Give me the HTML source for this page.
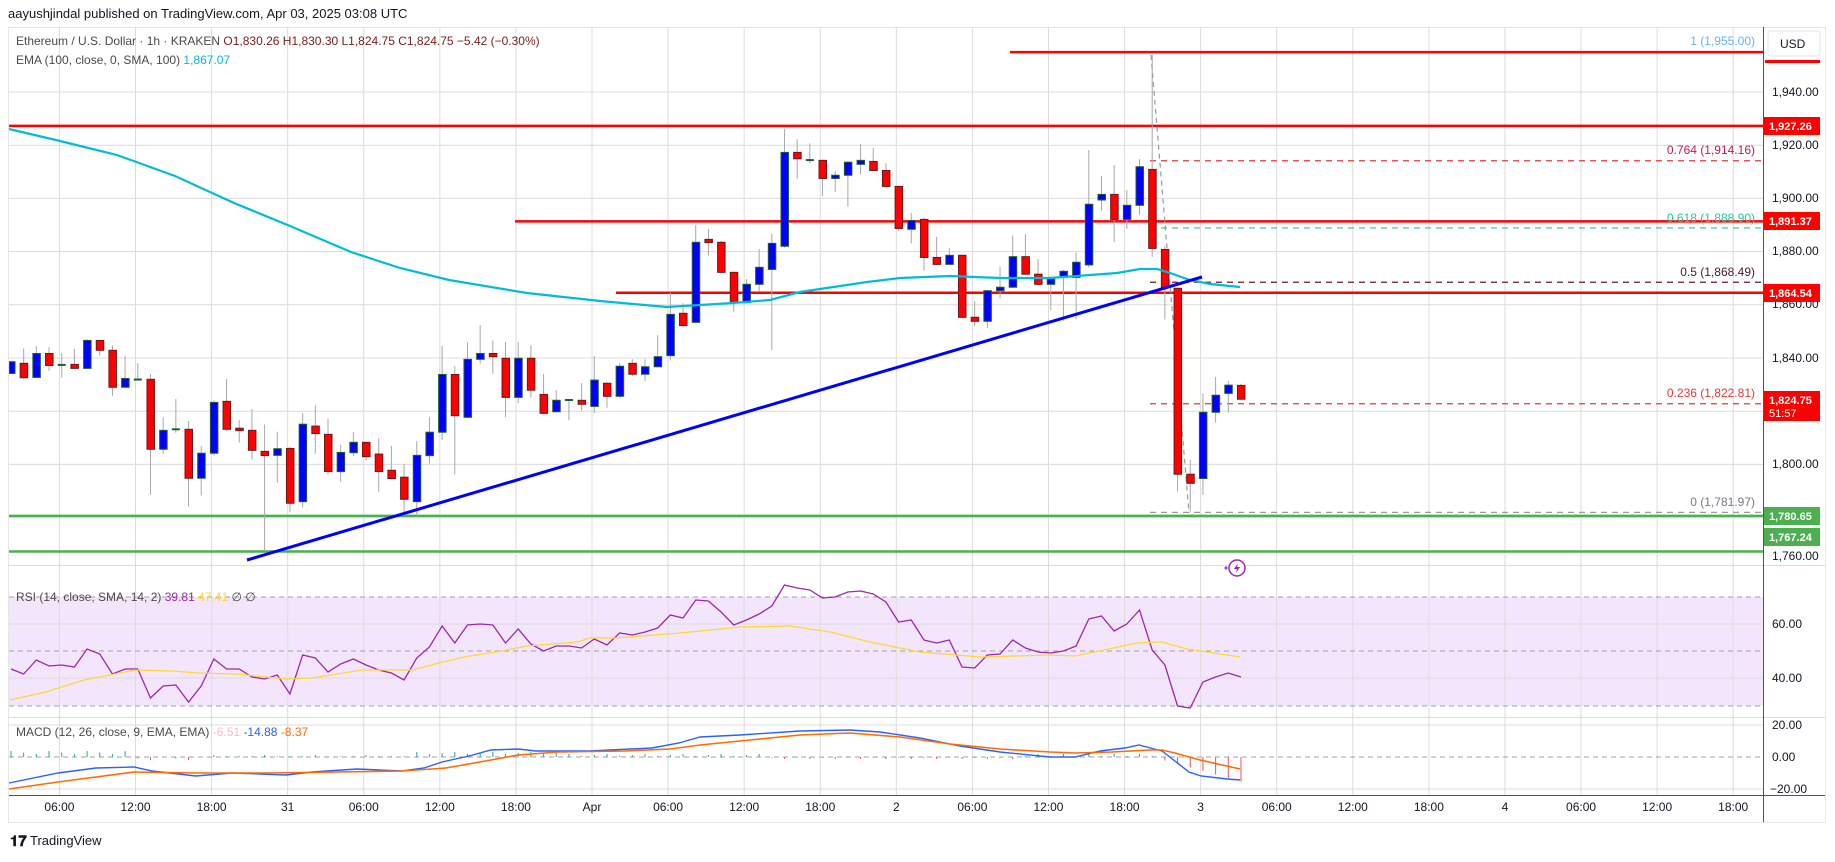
<!DOCTYPE html>
<html><head><meta charset="utf-8"><style>
body{margin:0;background:#fff;width:1835px;height:857px;overflow:hidden;font-family:"Liberation Sans",sans-serif}
svg text{font-family:"Liberation Sans",sans-serif}
</style></head><body>
<svg id="s" width="1835" height="857" xmlns="http://www.w3.org/2000/svg">
<rect x="0" y="0" width="1835" height="857" fill="#fff"/>
<text x="8" y="18" font-size="13" fill="#131722">aayushjindal published on TradingView.com, Apr 03, 2025 03:08 UTC</text>
<rect x="8.5" y="27.5" width="1817" height="795" fill="#fff" stroke="#e6e6e6"/>
<rect x="9" y="597" width="1754" height="109" fill="#f3e6fc"/>
<g id="grid" stroke="#dcdcdc" stroke-width="1"></g>
<g id="plot"></g>
<!-- pane separators and axes -->
<line x1="9" y1="565.5" x2="1825" y2="565.5" stroke="#dcdcdc"/>
<line x1="9" y1="717.5" x2="1825" y2="717.5" stroke="#dcdcdc"/>
<line x1="9" y1="795.5" x2="1825" y2="795.5" stroke="#50535e"/>
<line x1="1763.5" y1="27" x2="1763.5" y2="822" stroke="#50535e"/>
<!-- legends -->
<text x="16" y="45" font-size="12" fill="#4a4a4a">Ethereum / U.S. Dollar · 1h · KRAKEN <tspan fill="#7a1c1c">O1,830.26 H1,830.30 L1,824.75 C1,824.75 −5.42 (−0.30%)</tspan></text>
<text x="16" y="64" font-size="12" fill="#4a4a4a">EMA (100, close, 0, SMA, 100) <tspan fill="#00bcd4">1,867.07</tspan></text>
<text x="16" y="601" font-size="12" fill="#4a4a4a">RSI (14, close, SMA, 14, 2) <tspan fill="#9c27b0">39.81</tspan> <tspan fill="#fdd835">47.41</tspan> ∅ ∅</text>
<text x="16" y="736" font-size="12" fill="#4a4a4a">MACD (12, 26, close, 9, EMA, EMA) <tspan fill="#f8bbd0">-6.51</tspan> <tspan fill="#2962ff">-14.88</tspan> <tspan fill="#ff6d00">-8.37</tspan></text>
<!-- fib labels -->
<g font-size="12" text-anchor="end">
<text x="1755" y="45" fill="#64b5f6">1 (1,955.00)</text>
<text x="1755" y="154" fill="#c2185b">0.764 (1,914.16)</text>
<text x="1755" y="222" fill="#26c6a0">0.618 (1,888.90)</text>
<text x="1755" y="276" fill="#4a1a3a">0.5 (1,868.49)</text>
<text x="1755" y="397" fill="#e53935">0.236 (1,822.81)</text>
<text x="1755" y="506" fill="#787b86">0 (1,781.97)</text>
</g>
<!-- price axis -->
<g font-size="12" fill="#131722">
<rect x="1768" y="31" width="52" height="25" rx="3" fill="#fff" stroke="#e0e3eb"/>
<text x="1780" y="48" font-size="12">USD</text>
<rect x="1765" y="60" width="55" height="3" fill="#ff0000"/>
<text x="1772" y="96">1,940.00</text>
<text x="1772" y="149">1,920.00</text>
<text x="1772" y="202">1,900.00</text>
<text x="1772" y="255">1,880.00</text>
<text x="1772" y="308">1,860.00</text>
<text x="1772" y="362">1,840.00</text>
<text x="1772" y="468">1,800.00</text>
<text x="1772" y="560">1,760.00</text>
<text x="1772" y="628">60.00</text>
<text x="1772" y="682">40.00</text>
<text x="1772" y="729">20.00</text>
<text x="1772" y="761">0.00</text>
<text x="1770" y="793">−20.00</text>
</g>
<g font-size="11" font-weight="bold" fill="#fff">
<rect x="1764" y="117" width="56" height="18" fill="#ff0000"/><text x="1769" y="130">1,927.26</text>
<rect x="1764" y="212" width="56" height="18" fill="#ff0000"/><text x="1769" y="225">1,891.37</text>
<rect x="1764" y="284" width="56" height="18" fill="#ff0000"/><text x="1769" y="297">1,864.54</text>
<rect x="1764" y="391" width="56" height="30" fill="#ff0000"/><text x="1769" y="404">1,824.75</text><text x="1769" y="417" font-weight="normal">51:57</text>
<rect x="1764" y="507" width="56" height="18" fill="#4caf50"/><text x="1769" y="520">1,780.65</text>
<rect x="1764" y="528" width="56" height="18" fill="#4caf50"/><text x="1769" y="541">1,767.24</text>
</g>
<!-- time axis -->
<g id="tl" font-size="12" fill="#131722" text-anchor="middle"></g>
<!-- lightning icon -->
<g transform="translate(1237,568)">
<circle cx="0" cy="0" r="8" fill="#fff" stroke="#9c27b0" stroke-width="1.5"/>
<path d="M1,-5 L-3,1 L0,1 L-1,5 L3,-1 L0,-1 Z" fill="#9c27b0"/>
<path d="M-11,-2 l2,2 l-2,2 l-2,-2 z" fill="#7c4dff"/>
</g>
<!-- footer -->
<text x="10" y="846" font-size="15" font-weight="bold" fill="#131722">𝟏𝟕</text>
<text x="30" y="845" font-size="13" fill="#131722">TradingView</text>
</svg>
<script>
const NS="http://www.w3.org/2000/svg";
function el(p,t,a){const e=document.createElementNS(NS,t);for(const k in a)e.setAttribute(k,a[k]);p.appendChild(e);return e;}
const grid=document.getElementById('grid'),plot=document.getElementById('plot'),tl=document.getElementById('tl');
const X0=9,X1=1763;
const Y=p=>92+(1940-p)*2.66;
const tx=h=>592+h*12.68;
// vertical grid + labels
const labs=[["06:00",-42],["12:00",-36],["18:00",-30],["31",-24],["06:00",-18],["12:00",-12],["18:00",-6],["Apr",0],["06:00",6],["12:00",12],["18:00",18],["2",24],["06:00",30],["12:00",36],["18:00",42],["3",48],["06:00",54],["12:00",60],["18:00",66],["4",72],["06:00",78],["12:00",84],["18:00",90]];
labs.forEach(([t,h])=>{const x=tx(h);el(grid,'line',{x1:x,y1:27,x2:x,y2:795});const e=el(tl,'text',{x:x,y:811});e.textContent=t;});
[1940,1920,1900,1880,1860,1840,1820,1800,1780].forEach(p=>el(grid,'line',{x1:X0,y1:Y(p),x2:X1,y2:Y(p)}));
[624,678,725,789].forEach(y=>el(grid,'line',{x1:X0,y1:y,x2:X1,y2:y}));
[597,651,706,757].forEach(y=>el(plot,'line',{x1:X0,y1:y,x2:X1,y2:y,stroke:'#a0a0a8','stroke-dasharray':'5,4'}));
// horizontal level lines
const hl=(p,x1,c,w)=>el(plot,'line',{x1:x1,y1:Y(p),x2:X1,y2:Y(p),stroke:c,'stroke-width':w});
hl(1955,1010,'#ff0000',2.5);hl(1927.26,X0,'#ff0000',2.5);hl(1891.37,515,'#ff0000',2.5);hl(1864.54,616,'#ff0000',2.5);
hl(1780.65,X0,'#4caf50',2.5);hl(1767.24,X0,'#4caf50',2.5);
const dl=(p,c)=>el(plot,'line',{x1:1150,y1:Y(p),x2:X1,y2:Y(p),stroke:c,'stroke-width':1.2,'stroke-dasharray':'6,5'});
dl(1914.16,'#e53935');dl(1888.90,'#26c6a0');dl(1868.49,'#5d1a3a');dl(1822.81,'#e53935');dl(1781.97,'#9a9a9a');
el(plot,'line',{x1:1151,y1:55,x2:1189,y2:513,stroke:'#9a9a9a','stroke-width':1.2,'stroke-dasharray':'5,4'});
// candles o,c,h,l
const C=[[1834.2,1838.6,1839,1834],[1838,1832.6,1843.6,1832.1],[1832.7,1841.7,1844.5,1832.5],[1841.7,1837.2,1844.1,1835.2],[1837.4,1837.4,1842,1832.7],[1837.6,1836.1,1843.4,1835.8],[1836.1,1846.6,1847.1,1835.9],[1846.6,1842.9,1846.8,1840.9],[1842.9,1829,1844.6,1825.8],[1829,1832.3,1840.7,1828.8],[1831.9,1831.9,1838.1,1831.5],[1832,1805.7,1834,1788.6],[1805.7,1812.8,1817.8,1804],[1813.2,1813.2,1824.6,1811.9],[1813.2,1794.8,1816.3,1784.1],[1794.8,1804.2,1806.9,1788.3],[1804.2,1823.3,1824,1803.5],[1823.7,1813.2,1832.1,1812.5],[1813.6,1812.7,1816.7,1808.2],[1812.8,1805.3,1820.8,1801.8],[1804.9,1803.3,1815,1767.8],[1803.4,1805.9,1812.3,1793.1],[1806,1785.4,1806.5,1782],[1786,1815.1,1819.3,1783.8],[1814.4,1811.6,1822.3,1804],[1811.3,1797.3,1817.2,1796.2],[1797.3,1804.5,1807.4,1793.5],[1804.4,1808.3,1812.2,1803.2],[1808.3,1802.9,1808.5,1801.5],[1803.9,1797.3,1809.9,1789.7],[1797.8,1794.7,1807,1794.3],[1795.2,1786.9,1800.2,1780.5],[1786,1803.4,1808.8,1780.5],[1803.3,1812.1,1817.8,1800.2],[1812.1,1833.8,1844.6,1809.2],[1833.8,1818.3,1837,1796.2],[1817.7,1839.5,1845.8,1817.5],[1839.5,1841.7,1852.4,1837.9],[1841.7,1840.5,1846.6,1834.1],[1839.9,1825.2,1846,1817.8],[1825.2,1839.9,1846,1823],[1839.9,1827.9,1844.8,1825.1],[1826.3,1819.2,1834,1819],[1819.8,1824.1,1828,1819.5],[1824.2,1824.2,1824.5,1816.6],[1824.1,1822.6,1830.6,1820.3],[1821.8,1831.7,1840.7,1819.3],[1830.5,1825.6,1831,1821.3],[1825.6,1836.9,1838,1825],
[1838,1833.9,1839.5,1833.2],[1833.9,1836.7,1839.5,1831.5],[1836.7,1840.5,1848.6,1836.5],[1840.9,1856.4,1864.6,1839.1],[1856.8,1852.2,1860.6,1851.8],[1853.4,1883.5,1890,1853],[1884.6,1883.4,1888.5,1878.5],[1883.5,1872.2,1884,1871.8],[1872.2,1860.8,1872.5,1857.4],[1860.8,1867.7,1869.7,1860.5],[1867.7,1874.1,1881,1864.9],[1873.3,1883.1,1886.6,1843],[1882,1917.3,1926.1,1881.5],[1917.3,1914.9,1922.2,1907.5],[1914.4,1914.4,1920.7,1913.2],[1914.3,1907.5,1914.6,1900.9],[1907.5,1908.7,1910.3,1902.5],[1908.7,1913.6,1914,1896.9],[1912.8,1914.3,1920.5,1909],[1913.9,1910.5,1919,1910.2],[1910.5,1904.5,1913.2,1904.2],[1904.5,1888.7,1904.8,1887.7],[1888.4,1891.7,1894.5,1883.1],[1892.1,1877.8,1892.8,1872.8],[1877.8,1875.2,1885.6,1875],[1875.2,1878.6,1881.4,1875],[1878.6,1855.3,1879,1855],[1855.3,1853.8,1861.4,1851.8],[1853.8,1865.3,1865.6,1851.2],[1865.3,1866.6,1874.3,1862.4],[1866.6,1878.1,1886,1866.3],[1878.1,1871.5,1886.6,1871.2],[1871.5,1867.7,1877.2,1867.4],[1867.7,1870.2,1870.5,1858],[1870.3,1872.6,1873.1,1854],[1870.3,1876,1879.7,1854.5],[1875,1897.8,1918.2,1874.1],[1899.4,1901.5,1908.4,1895.4],[1901.5,1892.1,1912.5,1883.5],[1892.1,1897.4,1903.2,1888.5],[1897.4,1911.9,1914.8,1893.8],[1910.9,1881.2,1954,1878],[1880.8,1866.6,1882,1854.5],[1866.2,1796.3,1866.5,1789.8],[1796.3,1792.9,1801.7,1782.2],[1794.7,1819.6,1826.7,1788.5],[1819.6,1826,1832.9,1815.7],[1826.7,1829.8,1831.4,1819.5],[1829.7,1824.5,1830.3,1824.5]];
const cx=i=>11+i*12.68;
C.forEach((c,i)=>{const x=cx(i);if(x<9)return;const [o,cl,h,l]=c;
 el(plot,'line',{x1:x,y1:Y(h),x2:x,y2:Y(l),stroke:'#a8a8a8','stroke-width':1});
 const up=cl>=o;const t=Y(Math.max(o,cl)),b=Y(Math.min(o,cl));
 if(b-t<1.5){el(plot,'rect',{x:x-4,y:t-1,width:8,height:2,fill:up?'#1e5e32':'#6b1a1a'});}
 else el(plot,'rect',{x:Math.max(9,x-4)+0.5,y:t,width:(x-4<9?x+4-9:8)-0.5,height:b-t,fill:up?'#0000ff':'#ff0000',stroke:up?'#1e5e32':'#6b1a1a','stroke-width':1});
});
// EMA
const ema=[[9,129],[60,141],[117,155],[175,176],[234,203],[290,226],[351,252],[400,268],[449,280],[527,293],[600,301],[667,307],[733,303],[770,300],[800,292],[867,282],[900,278],[950,276],[1000,278],[1050,278],[1117,273],[1140,269],[1157,269],[1170,273],[1190,280],[1210,284],[1240,287]];
el(plot,'polyline',{points:ema.map(p=>p.join(',')).join(' '),fill:'none',stroke:'#00bcd4','stroke-width':2.2});
// trendline
el(plot,'line',{x1:247,y1:560,x2:1202,y2:277,stroke:'#0000ff','stroke-width':3});
// RSI
const rsi=[669,674,660,666,665,667,649,654,674,669,669,698,686,685,702,686,659,669,669,677,679,675,694,655,658,672,664,659,665,670,673,680,658,647,626,643,625,624,625,643,629,644,651,646,646,648,639,645,633,635,632,628,615,618,600,601,612,625,620,614,606,585,588,590,598,597,592,591,594,602,622,620,640,643,640,667,668,655,654,640,648,652,653,651,646,619,616,631,624,610,650,665,706,708,682,677,673,677];
el(plot,'polyline',{points:rsi.map((y,i)=>cx(i)+','+y).filter((s,i)=>cx(i)>=9).join(' '),fill:'none',stroke:'#9c27b0','stroke-width':1.3});
const rs=[[10,700],[46,692],[84,680],[135,670],[173,671],[198,673],[236,674],[286,679],[312,678],[362,670],[413,670],[439,663],[464,657],[502,651],[527,646],[577,642],[590,638],[615,638],[680,633],[740,627],[790,626],[830,632],[870,642],[920,652],[980,657],[1050,655],[1075,656],[1137,643],[1162,642],[1187,649],[1240,657]];
el(plot,'polyline',{points:rs.map(p=>p.join(',')).join(' '),fill:'none',stroke:'#fdd835','stroke-width':1.3});
// MACD histogram
for(let i=0;i<98;i++){const x=cx(i);if(x<9)continue;let v;
 if(i<10)v=-(6-i%3*1.5);else if(i<16)v=(i%3)*1.5;else if(i<32)v=-(i%4==0?2:0.8);else if(i<44)v=-(3+(i%3));else if(i<60)v=-(1+i%3);else if(i<80)v=(i%2?2:0.8);else if(i<91)v=-(i%2?3:1);else v=(i-90)*3.5;
 el(plot,'line',{x1:x,y1:757,x2:x,y2:757+v,stroke:v<0?'#26a69a':'#ef5350','stroke-width':1});}
const mb=[[9,783],[58,773],[96,768],[134,767],[152,771],[196,776],[232,773],[286,775],[312,772],[357,769],[402,771],[424,768],[442,762],[469,756],[491,750],[518,749],[536,751],[589,751],[652,748],[679,743],[700,737],[740,735],[800,731],[850,730],[880,732],[920,738],[960,746],[1000,752],[1050,757],[1075,757],[1100,751],[1125,748],[1139,745],[1162,751],[1189,772],[1201,776],[1227,779],[1240,780]];
const mo=[[9,789],[58,782],[134,772],[196,773],[268,773],[402,771],[446,768],[491,760],[518,755],[558,752],[625,751],[670,749],[700,745],[750,740],[800,735],[850,733],[900,737],[950,744],[1000,749],[1050,752],[1075,753],[1112,752],[1150,750],[1162,750],[1175,753],[1200,760],[1240,769]];
el(plot,'polyline',{points:mb.map(p=>p.join(',')).join(' '),fill:'none',stroke:'#2962ff','stroke-width':1.4});
el(plot,'polyline',{points:mo.map(p=>p.join(',')).join(' '),fill:'none',stroke:'#ff6d00','stroke-width':1.6});
</script>
</body></html>
